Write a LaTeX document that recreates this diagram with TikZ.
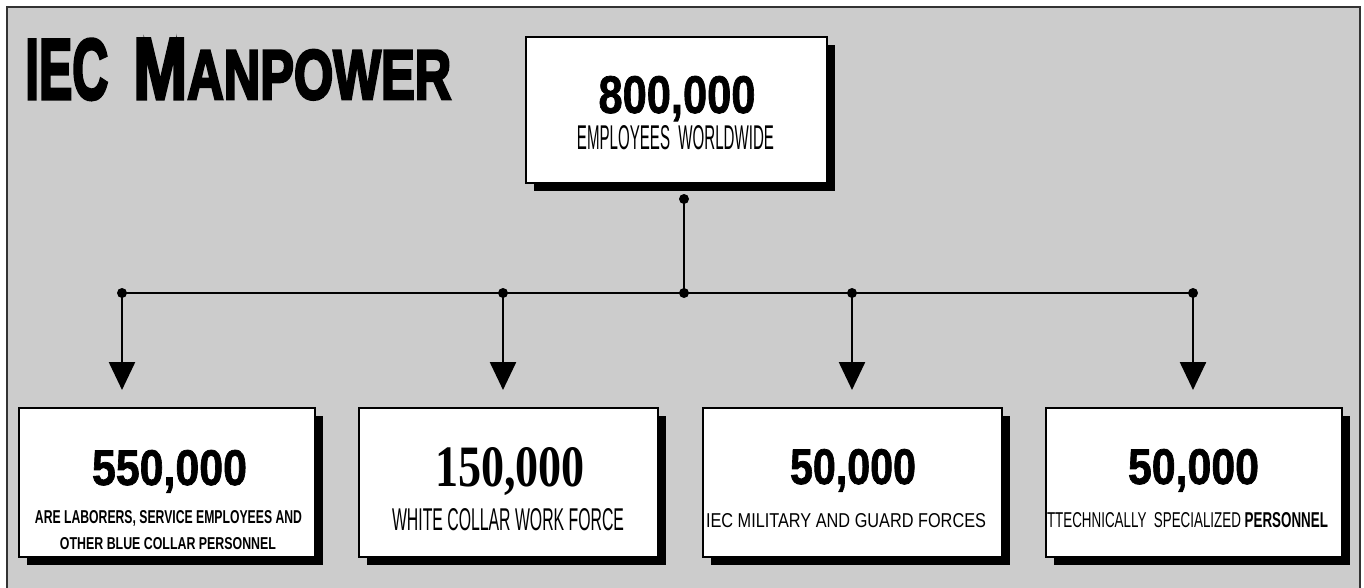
\documentclass[tikz,border=0pt]{standalone}
\usepackage{fontspec}
\usepackage{graphicx}
\setmainfont{Liberation Sans}
\newfontfamily\numserif{Liberation Serif}
\newfontfamily\heavytitle{Liberation Sans Bold}[FakeBold=4]
\newfontfamily\heavynum{Liberation Sans Bold}[FakeBold=1.5]
\usetikzlibrary{arrows.meta,shadows}
\newcommand{\rsz}[3]{\resizebox{#1pt}{#2pt}{#3}}
\begin{document}
\begin{tikzpicture}[x=1pt,y=-1pt,
  card/.style={draw=black, line width=2.5pt, fill=white, inner sep=0pt,
    drop shadow={shadow xshift=8pt, shadow yshift=-8pt, fill=black, opacity=1}},
  lbl/.style={inner sep=0pt, anchor=base},
  conn/.style={line width=2.5pt, draw=black},
  arr/.style={conn, -{Triangle[width=26pt,length=28pt]}},
  jdot/.style={circle, fill=black, inner sep=0pt, minimum size=10pt}
]
\useasboundingbox (0,0) rectangle (1364,588);
\fill[white] (0,0) rectangle (1364,588);
\fill[black!20] (7,7) rectangle (1360,588);
\draw[black!80, line width=2pt] (7,588) -- (7,7) -- (1360,7) -- (1360,588);

% title
\node[inner sep=0pt, anchor=base west] (title) at (25,99)
  {\heavytitle\rsz{83}{60}{IEC}\hspace{25pt}\rsz{54}{60}{M}\rsz{264}{49}{ANPOWER}};

% boxes
\node[card, minimum width=301pt, minimum height=146pt] (top) at (676.5,110) {};
\node[card, minimum width=296pt, minimum height=149pt] (b1) at (167,482.5) {};
\node[card, minimum width=299pt, minimum height=149pt] (b2) at (508.5,482.5) {};
\node[card, minimum width=299pt, minimum height=149pt] (b3) at (852.5,482.5) {};
\node[card, minimum width=296pt, minimum height=149pt] (b4) at (1194,482.5) {};

% texts
\node[lbl] (n0) at (677,113) {\heavynum\rsz{157}{37}{800,000}};
\node[lbl] (t0) at (675.5,150) {\rsz{197}{24}{EMPLOYEES\ \ WORLDWIDE}};
\node[lbl] (n1) at (169.5,485) {\heavynum\rsz{155}{35}{550,000}};
\node[lbl] (t1a) at (168.5,523) {\bfseries\rsz{267}{13}{ARE LABORERS, SERVICE EMPLOYEES AND}};
\node[lbl] (t1b) at (168,549) {\bfseries\rsz{216}{12}{OTHER BLUE COLLAR PERSONNEL}};
\node[lbl] (n2) at (510,486) {\numserif\bfseries\rsz{150}{39}{150,000}};
\node[lbl] (t2) at (508,530) {\rsz{232}{22}{WHITE COLLAR WORK FORCE}};
\node[lbl] (n3) at (853,484) {\heavynum\rsz{126}{35}{50,000}};
\node[lbl] (t3) at (846,527) {\rsz{280}{14}{IEC MILITARY AND GUARD FORCES}};
\node[lbl] (n4) at (1193.5,484) {\heavynum\rsz{131}{35}{50,000}};
\node[lbl] (t4) at (1187.5,527) {\rsz{281}{15}{TTECHNICALLY\ \ SPECIALIZED \textbf{PERSONNEL}}};

% connectors
\node[jdot] (d0) at (684,199) {};
\node[jdot] (j) at (684,293) {};
\node[jdot] (d1) at (122,293) {};
\node[jdot] (d2) at (503,293) {};
\node[jdot] (d3) at (852,293) {};
\node[jdot] (d4) at (1193,293) {};
\coordinate (e1) at (122,390);
\coordinate (e2) at (503,390);
\coordinate (e3) at (852,390);
\coordinate (e4) at (1193,390);
\draw[conn] (d0.center) -- (j.center);
\draw[conn] (d1.center) -- (d4.center);
\draw[arr] (d1.center) -- (e1);
\draw[arr] (d2.center) -- (e2);
\draw[arr] (d3.center) -- (e3);
\draw[arr] (d4.center) -- (e4);
\end{tikzpicture}
\end{document}
